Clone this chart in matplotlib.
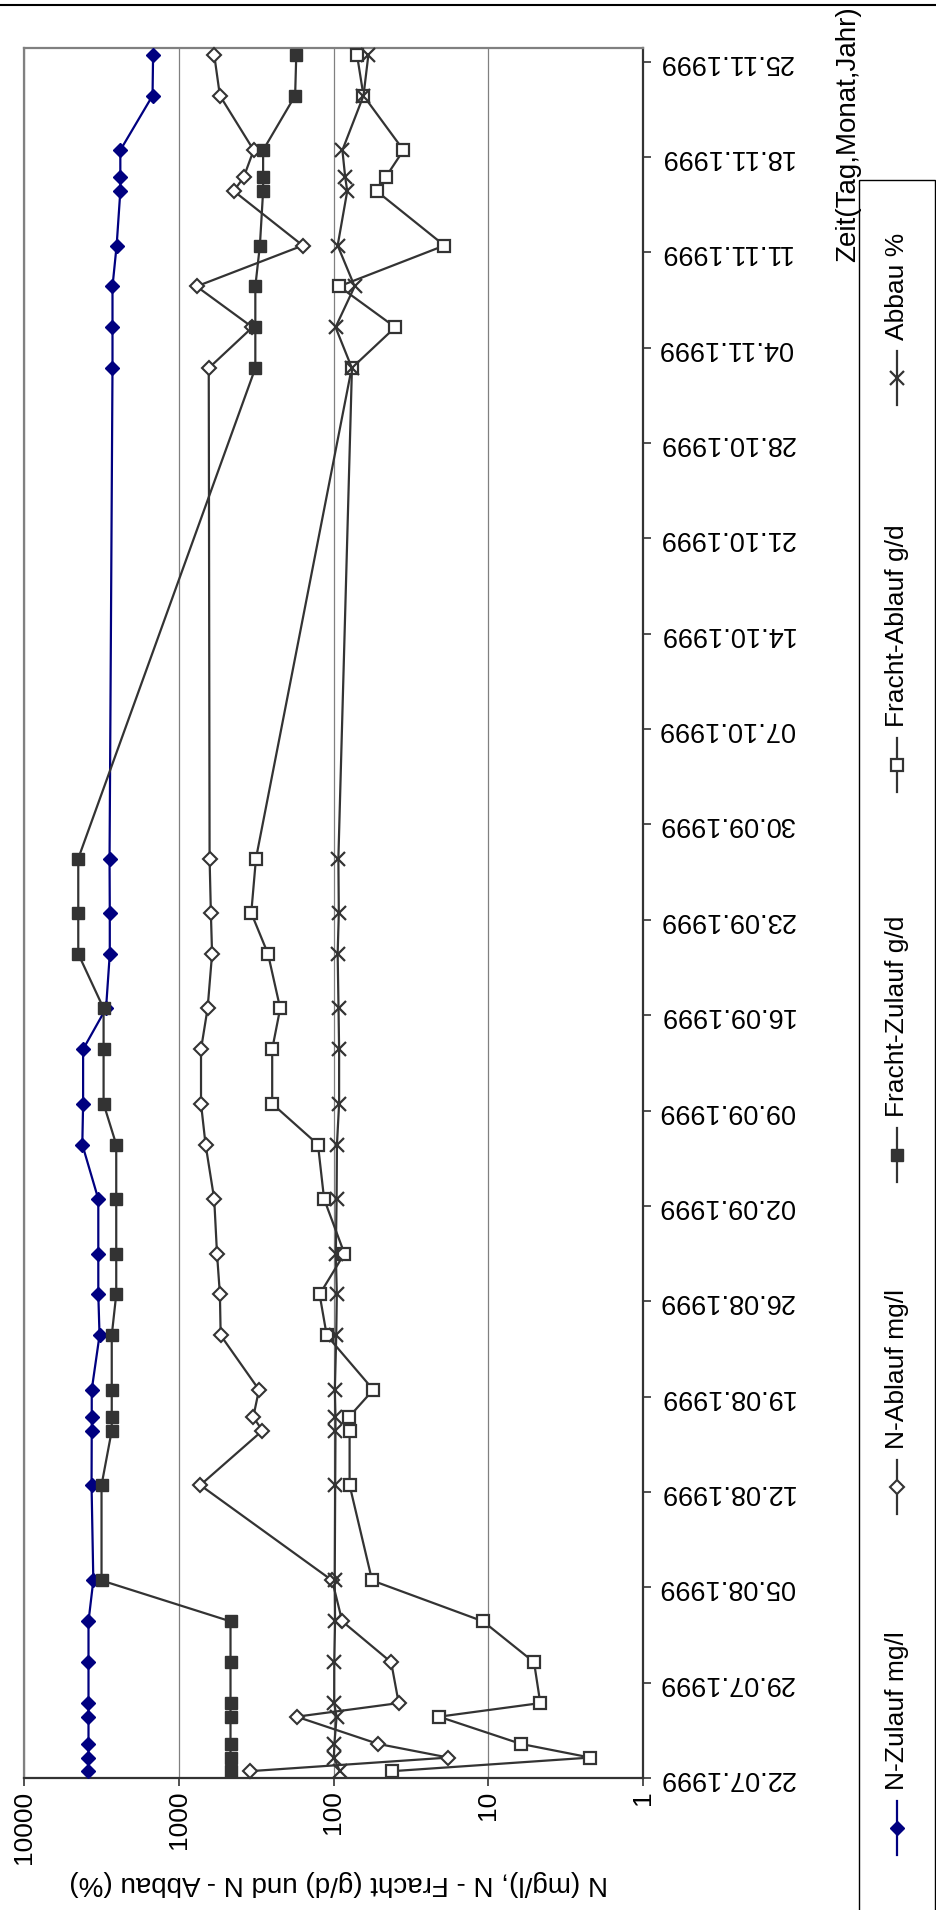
import numpy as np
import pandas as pd
import matplotlib
matplotlib.use("Agg")
import matplotlib.pyplot as plt
import matplotlib.dates as mdates
from matplotlib.ticker import NullLocator
from matplotlib.patches import Rectangle

plt.rcParams['font.family'] = ['Liberation Sans', 'DejaVu Sans']

# Messtage
datum = ['22.07.1999', '23.07.1999', '24.07.1999', '26.07.1999', '27.07.1999',
         '30.07.1999', '02.08.1999', '05.08.1999', '12.08.1999', '16.08.1999',
         '17.08.1999', '19.08.1999', '23.08.1999', '26.08.1999', '29.08.1999',
         '02.09.1999', '06.09.1999', '09.09.1999', '13.09.1999', '16.09.1999',
         '20.09.1999', '23.09.1999', '27.09.1999', '02.11.1999', '05.11.1999',
         '08.11.1999', '11.11.1999', '15.11.1999', '16.11.1999', '18.11.1999',
         '22.11.1999', '25.11.1999']

n_zulauf = [3830, 3830, 3830, 3830, 3830, 3830, 3830, 3565, 3660, 3650,
            3650, 3650, 3250, 3310, 3310, 3310, 4200, 4150, 4150, 2950,
            2790, 2790, 2800, 2680, 2680, 2680, 2520, 2385, 2385, 2385,
            1477, 1465]
n_ablauf = [348, 18.1, 51.4, 173, 37.9, 42.4, 87.8, 102, 726, 288,
            330, 303, 536, 542, 566, 590, 671, 718, 718, 651,
            609, 620, 632, 640, 334, 767, 158, 441, 381, 328,
            542, 590]
fracht_zulauf = [463, 463, 463, 463, 463, 463, 463, 3155, 3155, 2710,
                 2710, 2710, 2710, 2535, 2535, 2535, 2535, 3060, 3060, 3060,
                 4460, 4460, 4460, 320, 320, 320, 299, 285, 285, 285,
                 177, 174]
fracht_ablauf = [41.9, 2.19, 6.14, 20.8, 4.61, 5.06, 10.8, 56.3, 78.7, 78.7,
                 79.5, 55.3, 110.6, 123, 85, 115, 126, 249, 249, 221,
                 265, 340, 317, 76.3, 39.9, 92, 19.2, 52.7, 46.1, 35.3,
                 64, 70.5]
abbau = [91, 99.5, 98.7, 95.5, 99, 98.9, 97.7, 98.2, 97.5, 97.1,
         97.1, 98, 96, 95.2, 96.6, 95.5, 95, 92, 92, 92.8,
         94, 92.4, 93, 76, 97, 73, 94, 81.5, 84, 87.6,
         64, 59.5]

wert_ticks = [10000, 1000, 100, 10, 1]
wert_labels = ['10000', '1000', '100', '10', '1']

W, H = 936, 1910
fig = plt.figure(figsize=(W / 100, H / 100), dpi=100)
ax = fig.add_axes([24 / W, 1 - 1778 / H, 619 / W, 1730 / H])

# Excel-Datumsachse: Punkte in der Tagesmitte
t = (pd.to_datetime(datum, format='%d.%m.%Y') + pd.Timedelta(hours=12)).to_numpy()

dunkel = '#333333'
ax.plot(n_zulauf, t, color='#000080', lw=1.6, marker='D', ms=7.5,
        mfc='#000080', mec='#000080', clip_on=False, zorder=3)
ax.plot(n_ablauf, t, color=dunkel, lw=1.6, marker='D', ms=7.5,
        mfc='white', mec=dunkel, mew=1.5, clip_on=False, zorder=4)
ax.plot(fracht_zulauf, t, color=dunkel, lw=1.6, marker='s', ms=9,
        mfc=dunkel, mec=dunkel, clip_on=False, zorder=5)
ax.plot(fracht_ablauf, t, color=dunkel, lw=1.6, marker='s', ms=9,
        mfc='white', mec=dunkel, mew=1.6, clip_on=False, zorder=6)
ax.plot(abbau, t, color=dunkel, lw=1.6, marker='x', ms=9.5, mew=1.6,
        clip_on=False, zorder=7)

ax.set_xscale('log')
ax.set_xlim(10000, 1)
ax.set_xticks(wert_ticks, labels=wert_labels)
ax.xaxis.set_minor_locator(NullLocator())

ax.set_ylim(np.datetime64('1999-07-22'), np.datetime64('1999-11-26'))
ax.set_yticks(pd.date_range('1999-07-22', '1999-11-25', freq='7D').to_numpy())
ax.yaxis.set_major_formatter(mdates.DateFormatter('%d.%m.%Y'))
ax.yaxis.set_minor_locator(NullLocator())

ax.tick_params(axis='x', direction='out', length=6, width=1.2, color=dunkel,
               labelsize=19, pad=3, labelrotation=90)
ax.tick_params(axis='y', left=False, labelleft=False, right=True, labelright=True,
               direction='out', length=6, width=1.2, color=dunkel,
               labelsize=19.5, pad=5, labelrotation=180)
for lab in ax.get_yticklabels():
    lab.set_va('center')

ax.grid(axis='x', color='#808080', lw=0.9)
ax.grid(axis='y', visible=False)
ax.set_axisbelow(True)
for s in ['left', 'top']:
    ax.spines[s].set_color('#808080')
    ax.spines[s].set_linewidth(1.6)
for s in ['right', 'bottom']:
    ax.spines[s].set_color(dunkel)
    ax.spines[s].set_linewidth(1.6)

# Beschriftung, Legende, Rahmen in Pixelkoordinaten
lg = fig.add_axes([0, 0, 1, 1])
lg.set_xlim(0, W)
lg.set_ylim(H, 0)
lg.axis('off')

lg.plot([0, W], [5, 5], color='black', lw=1.5)
lg.text(339, 1883, 'N (mg/l), N - Fracht (g/d) und N - Abbau (%)', rotation=180,
        ha='center', va='center', fontsize=20)
lg.text(848, 134, 'Zeit(Tag,Monat,Jahr)', rotation=90,
        ha='center', va='center', fontsize=20)

lg.add_patch(Rectangle((859, 180), 76, 1800, fill=False, ec='black', lw=1))

eintraege = [
    ('N-Zulauf mg/l', 1828, dict(color='#000080', marker='D', ms=7.5, mfc='#000080', mec='#000080')),
    ('N-Ablauf mg/l', 1487, dict(color=dunkel, marker='D', ms=7.5, mfc='white', mec=dunkel, mew=1.5)),
    ('Fracht-Zulauf g/d', 1155, dict(color=dunkel, marker='s', ms=9, mfc=dunkel, mec=dunkel)),
    ('Fracht-Ablauf g/d', 765, dict(color=dunkel, marker='s', ms=9, mfc='white', mec=dunkel, mew=1.6)),
    ('Abbau %', 378, dict(color=dunkel, marker='x', ms=9.5, mew=1.6)),
]
lx = 897
for name, my, stil in eintraege:
    farbe = stil['color']
    lg.plot([lx, lx], [my - 27, my + 27], color=farbe, lw=1.6)
    lg.plot([lx], [my], ls='none', **stil)
    lg.text(lx, my - 38, name, rotation=90, rotation_mode='anchor',
            ha='left', va='center', fontsize=19)

fig.savefig('out.png', dpi=100, facecolor='white')
